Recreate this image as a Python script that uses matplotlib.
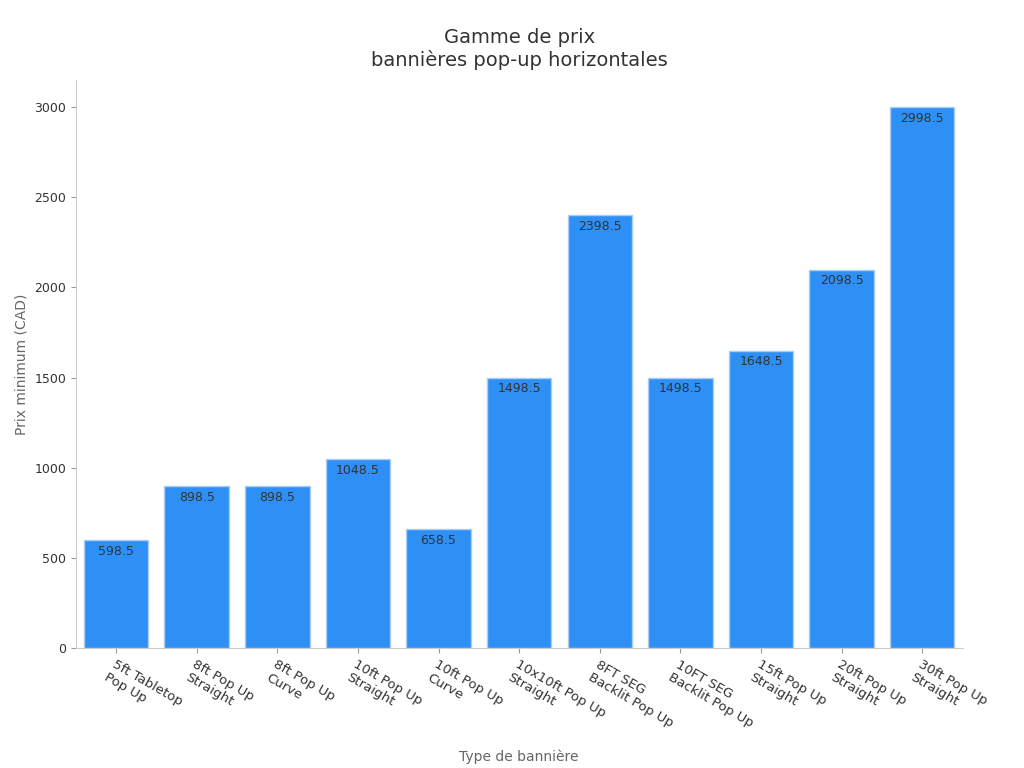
import matplotlib.pyplot as plt

categories = ["5ft Tabletop\nPop Up", "8ft Pop Up\nStraight", "8ft Pop Up\nCurve",
              "10ft Pop Up\nStraight", "10ft Pop Up\nCurve", "10x10ft Pop Up\nStraight",
              "8FT SEG\nBacklit Pop Up", "10FT SEG\nBacklit Pop Up", "15ft Pop Up\nStraight",
              "20ft Pop Up\nStraight", "30ft Pop Up\nStraight"]
prices = [598.5, 898.5, 898.5, 1048.5, 658.5, 1498.5, 2398.5, 1498.5, 1648.5, 2098.5, 2998.5]

fig = plt.figure(figsize=(10.24, 7.68), dpi=100)
ax = fig.add_axes([0.074, 0.156, 0.866, 0.74])

bars = ax.bar(range(len(categories)), prices, width=0.8, color="#2e90f5",
              edgecolor="#a9cdf5", linewidth=1)
for b, v in zip(bars, prices):
    ax.text(b.get_x() + b.get_width() / 2, v - 25, f"{v:g}", ha="center", va="top",
            fontsize=9, color="#333333")

ax.set_xlim(-0.5, len(categories) - 0.5)
ax.set_ylim(0, 3150)
ax.set_yticks(range(0, 3001, 500))
ax.set_xticks(range(len(categories)))
ax.set_xticklabels(categories, rotation=-30, ha="left", rotation_mode="anchor", fontsize=9.5,
                   color="#333333")
ax.tick_params(axis="y", labelsize=9, colors="#333333")
ax.tick_params(color="#999999")
for s in ["top", "right"]:
    ax.spines[s].set_visible(False)
for s in ["left", "bottom"]:
    ax.spines[s].set_color("#cccccc")

ax.set_xlabel("Type de bannière", fontsize=10, color="#666666", labelpad=12)
ax.set_ylabel("Prix minimum (CAD)", fontsize=10, color="#666666")
ax.set_title("Gamme de prix\nbannières pop-up horizontales", fontsize=14, color="#333333", pad=10)

fig.savefig("out.png")
